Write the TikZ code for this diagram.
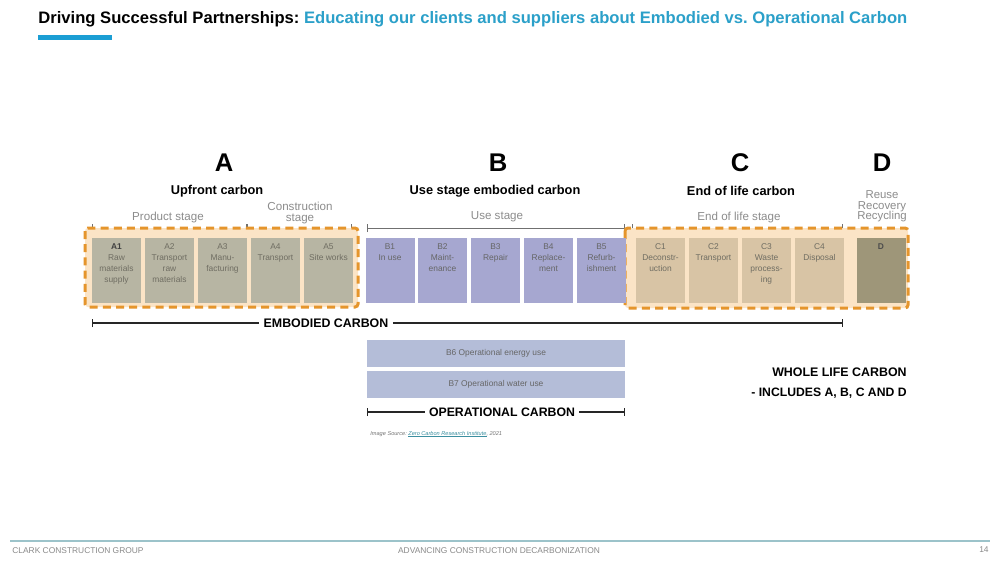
\documentclass[tikz,border=0pt]{standalone}
\usepackage{fontspec}
\setmainfont{Liberation Sans}
\usetikzlibrary{arrows.meta}
\frenchspacing
\newcommand\linkul[1]{\setbox0\hbox{#1}\rlap{\rule[-0.45pt]{\wd0}{0.18pt}}\box0}
\newcommand\tightls{\lineskiplimit=-5pt\relax}
\definecolor{titleblue}{HTML}{2BA0C9}
\definecolor{barblue}{HTML}{1B9ED4}
\definecolor{dashorange}{HTML}{E5952C}
\definecolor{peach}{HTML}{FBE4C6}
\definecolor{cellA}{HTML}{B7B5A3}
\definecolor{cellB}{HTML}{A6A7D0}
\definecolor{cellC}{HTML}{D8C4A5}
\definecolor{cellD}{HTML}{9E9679}
\definecolor{cellOp}{HTML}{B4BDD8}
\definecolor{lblgray}{HTML}{8C8C8C}
\definecolor{celltxt}{HTML}{6F6D62}
\definecolor{footline}{HTML}{9CC3CA}
\definecolor{foottxt}{HTML}{8A8A8A}
\definecolor{linkteal}{HTML}{3C8FA0}
\begin{document}
\begin{tikzpicture}[x=0.5pt,y=-0.5pt,
  cellbox/.style={draw=none,minimum width=24.5pt,minimum height=32.5pt,inner sep=0pt},
  ctext/.style={anchor=north,inner sep=0pt,align=center,text=celltxt,font=\fontsize{4.2}{5.5}\selectfont\tightls},
  bigletter/.style={font=\fontsize{12.8}{14}\selectfont\bfseries,text=black,inner sep=0pt},
  subhead/.style={font=\fontsize{6.4}{7}\selectfont\bfseries,text=black,inner sep=0pt},
  stagelbl/.style={font=\fontsize{5.8}{5.6}\selectfont\tightls,text=lblgray,inner sep=0pt,align=center},
  bracket/.style={draw=lblgray!80!black,line width=0.4pt,{Bar[width=4pt]}-{Bar[width=4pt]}},
  dashframe/.style={draw=dashorange,line width=1.5pt,dash pattern=on 4pt off 2.6pt,fill=peach,rounded corners=1.5pt},
  bigcaps/.style={font=\fontsize{6.2}{7}\selectfont\bfseries,text=black,inner sep=2pt},
  measure/.style={draw=black!85,line width=0.7pt},
  foot/.style={font=\fontsize{4.2}{4.5}\selectfont,text=foottxt,inner sep=0pt}
]
\useasboundingbox[fill=white] (0,0) rectangle (1000,563);

% title
\node[anchor=base west,inner sep=0pt,font=\fontsize{8.3}{10}\selectfont\bfseries] (title) at (38,23.5)
  {Driving Successful Partnerships: \textcolor{titleblue}{Educating our clients and suppliers about Embodied vs. Operational Carbon}};
\fill[barblue] (38,35) rectangle (112,40);

% headings
\node[bigletter] (hA) at (224,163) {A};
\node[bigletter] (hB) at (498,163) {B};
\node[bigletter] (hC) at (740,163) {C};
\node[bigletter] (hD) at (882,163) {D};
\node[subhead] (sA) at (217,191) {Upfront carbon};
\node[subhead] (sB) at (495,191) {Use stage embodied carbon};
\node[subhead] (sC) at (741,191) {End of life carbon};
\node[stagelbl] (lProd) at (168,217) {Product stage};
\node[stagelbl] (lCons) at (300,213) {Construction\\stage};
\node[stagelbl] (lUse) at (497,217) {Use stage};
\node[stagelbl] (lEnd) at (739,217) {End of life stage};
\node[stagelbl,font=\fontsize{5.7}{5.2}\selectfont\tightls] (lD) at (882,206.5) {Reuse\\Recovery\\Recycling};

% brackets
\coordinate (bp1) at (92,228); \coordinate (bp2) at (247,228); \coordinate (bp3) at (352,228);
\coordinate (bu1) at (367,228); \coordinate (bu2) at (625,228);
\coordinate (be1) at (632,228); \coordinate (be2) at (843,228);
\draw[bracket] (bp1) -- (bp2);
\draw[bracket] (bp2) -- (bp3);
\draw[bracket] (bu1) -- (bu2);
\draw[bracket] (be1) -- (be2);

% dashed frames
\draw[dashframe] (85,228) rectangle (358,307);
\draw[dashframe] (625,228) rectangle (908,308);

% A cells
\node[cellbox,fill=cellA] (a1) at (116.5,270.5) {};
\node[cellbox,fill=cellA] (a2) at (169.5,270.5) {};
\node[cellbox,fill=cellA] (a3) at (222.5,270.5) {};
\node[cellbox,fill=cellA] (a4) at (275.5,270.5) {};
\node[cellbox,fill=cellA] (a5) at (328.5,270.5) {};
\node[ctext] (ta1) at ([yshift=-2.8pt]a1.north) {\textbf{\textcolor{black!75}{A1}}\\Raw\\materials\\supply};
\node[ctext] (ta2) at ([yshift=-2.8pt]a2.north) {A2\\Transport\\raw\\materials};
\node[ctext] (ta3) at ([yshift=-2.8pt]a3.north) {A3\\Manu-\\facturing};
\node[ctext] (ta4) at ([yshift=-2.8pt]a4.north) {A4\\Transport};
\node[ctext] (ta5) at ([yshift=-2.8pt]a5.north) {A5\\Site works};

% B cells
\node[cellbox,fill=cellB] (b1) at (390,270.5) {};
\node[cellbox,fill=cellB] (b2) at (442.5,270.5) {};
\node[cellbox,fill=cellB] (b3) at (495.5,270.5) {};
\node[cellbox,fill=cellB] (b4) at (548.5,270.5) {};
\node[cellbox,fill=cellB] (b5) at (601.5,270.5) {};
\node[ctext,text=black!60] (tb1) at ([yshift=-2.8pt]b1.north) {B1\\In use};
\node[ctext,text=black!60] (tb2) at ([yshift=-2.8pt]b2.north) {B2\\Maint-\\enance};
\node[ctext,text=black!60] (tb3) at ([yshift=-2.8pt]b3.north) {B3\\Repair};
\node[ctext,text=black!60] (tb4) at ([yshift=-2.8pt]b4.north) {B4\\Replace-\\ment};
\node[ctext,text=black!60] (tb5) at ([yshift=-2.8pt]b5.north) {B5\\Refurb-\\ishment};

% C cells
\node[cellbox,fill=cellC] (c1) at (660.5,270.5) {};
\node[cellbox,fill=cellC] (c2) at (713.5,270.5) {};
\node[cellbox,fill=cellC] (c3) at (766.5,270.5) {};
\node[cellbox,fill=cellC] (c4) at (819.5,270.5) {};
\node[cellbox,fill=cellD] (d1) at (881,270.5) {};
\node[ctext] (tc1) at ([yshift=-2.8pt]c1.north) {C1\\Deconstr-\\uction};
\node[ctext] (tc2) at ([yshift=-2.8pt]c2.north) {C2\\Transport};
\node[ctext] (tc3) at ([yshift=-2.8pt]c3.north) {C3\\Waste\\process-\\ing};
\node[ctext] (tc4) at ([yshift=-2.8pt]c4.north) {C4\\Disposal};
\node[ctext,text=black!70] (td1) at ([yshift=-2.8pt]d1.north) {\textbf{D}};

% embodied carbon
\node[bigcaps] (emb) at (326,323) {EMBODIED CARBON};
\coordinate (emL) at (92,323); \coordinate (emR) at (843,323);
\draw[measure,{Bar[width=4pt]}-] (emL) -- (emb.west);
\draw[measure,-{Bar[width=4pt]}] (emb.east) -- (emR);

% operational
\node[cellbox,fill=cellOp,minimum width=129pt,minimum height=13.5pt] (b6) at (496,353.5) {};
\node[cellbox,fill=cellOp,minimum width=129pt,minimum height=13.5pt] (b7) at (496,384.5) {};
\node[inner sep=0pt,text=black!60,font=\fontsize{4.2}{5}\selectfont] (tb6) at (b6.center) {B6 Operational energy use};
\node[inner sep=0pt,text=black!60,font=\fontsize{4.2}{5}\selectfont] (tb7) at (b7.center) {B7 Operational water use};
\node[bigcaps,font=\fontsize{6.15}{7}\selectfont\bfseries] (op) at (502,412) {OPERATIONAL CARBON};
\coordinate (opL) at (367,412); \coordinate (opR) at (625,412);
\draw[measure,{Bar[width=4pt]}-] (opL) -- (op.west);
\draw[measure,-{Bar[width=4pt]}] (op.east) -- (opR);

\node[anchor=west,inner sep=0pt,font=\fontsize{2.8}{3}\selectfont\itshape,text=black!55] (src) at (370,434)
  {Image Source: \textcolor{linkteal}{\linkul{Zero Carbon Research Institute}}, 2021};

% whole life
\node[anchor=east,inner sep=0pt,font=\fontsize{6.2}{7}\selectfont\bfseries] (wl1) at (907,372) {WHOLE LIFE CARBON};
\node[anchor=east,inner sep=0pt,font=\fontsize{6.1}{7}\selectfont\bfseries] (wl2) at (907,393) {- INCLUDES A, B, C AND D};

% footer
\draw[footline,line width=1pt] (10,541) -- (990,541);
\node[foot,anchor=west] (f1) at (12,551) {CLARK CONSTRUCTION GROUP};
\node[foot] (f2) at (499,551) {ADVANCING CONSTRUCTION DECARBONIZATION};
\node[foot,anchor=east] (f3) at (989,550) {14};
\end{tikzpicture}
\end{document}
